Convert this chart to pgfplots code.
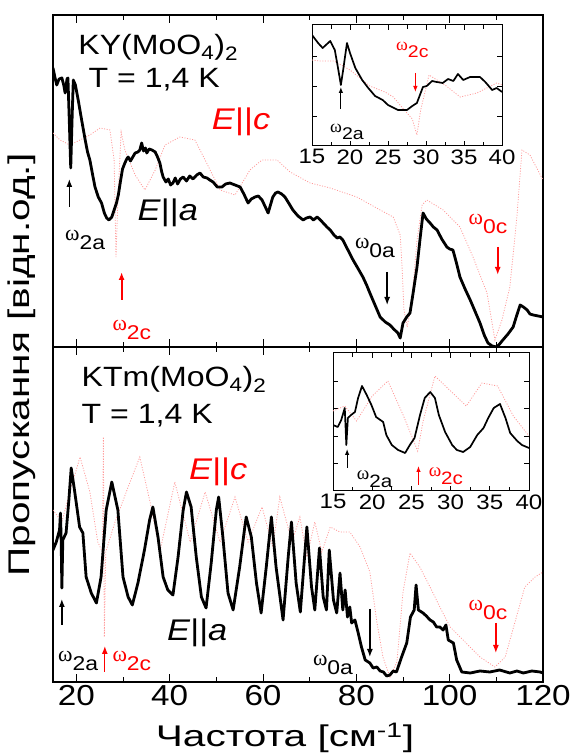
\documentclass[border=0pt]{standalone}
\usepackage{fontspec}
\setmainfont{Liberation Sans}[FakeStretch=1.15]
\newfontfamily\gr{Liberation Serif}
\usepackage{pgfplots}
\pgfplotsset{compat=1.18}
\usetikzlibrary{arrows.meta}

\newcommand\fs[1]{\fontsize{#1}{#1}\selectfont}
% omega with a subscript: size of omega, size of index, index
\newcommand\om[3]{{\fs{#1}{\gr ω}\raisebox{-0.4em}{\fs{#2}#3}}}

\pgfplotsset{
  panel/.style={
    scale only axis, width=490bp,
    xmin=15, xmax=120, ymin=0,
    xtick={20,40,...,120}, minor x tick num=1,
    ytick=\empty,
    tick align=inside, major tick length=8bp, minor tick length=5bp,
    axis line style={line width=1.2bp},
    every tick/.style={black,line width=1bp},
    tick label style={font=\fs{29}},
    /pgf/number format/assume math mode=true,
  },
  inset/.style={
    scale only axis, width=190bp,
    xmin=15, xmax=40, ymin=0,
    xtick={15,20,...,40}, minor x tick num=1,
    yticklabels={},
    tick align=inside, major tick length=5bp, minor tick length=4bp,
    axis line style={line width=1bp},
    every tick/.style={black,line width=0.8bp},
    tick label style={font=\fs{21}},
    axis background/.style={fill=white},
    /pgf/number format/assume math mode=true,
  },
}
\tikzset{
  ea/.style={black,line width=2.8bp,line join=round},
  eai/.style={black,line width=1.7bp,line join=round},
  ec/.style={red!40,line width=0.8bp,dash pattern=on 1bp off 1.6bp},
  up/.style={-{Latex[length=8bp,width=6bp]},line width=1.3bp},
}

\begin{document}
\begin{tikzpicture}
\useasboundingbox (0,0) rectangle (573bp,756bp);

% ---------- upper panel: KY(MoO4)2 ----------
\begin{axis}[panel, at={(53bp,409bp)}, anchor=south west,
  height=332bp, ymax=332, xticklabels={}]
\addplot[ec] coordinates {
(15.0,214)(16.5,207)(18.6,202)(20.8,207)(22.9,212)(25.1,219)(27.2,217)(28.1,187)
(28.5,90)(28.9,147)(29.6,215)(30.4,197)(32.6,172)(34.7,157)(36.9,177)(39.0,202)
(42.2,210)(45.4,207)(47.6,187)(50.8,157)(54.0,152)(57.2,177)(59.8,187)(63.0,187)
(65.8,175)(70.1,164)(74.4,159)(80.1,150)(85.1,137)(87.9,130)(89.4,112)(89.8,80)
(90.2,37)(90.9,20)(91.9,47)(93.0,107)(94.1,142)(95.1,147)(98.6,137)(102.2,120)
(105.0,90)(108.0,54)(109.7,7)(111.2,27)(112.9,60)(114.4,130)(115.5,197)(117.2,192)
(120,167)};
\addplot[ea] coordinates {
(15.0,279)(15.4,270)(15.8,262)(16.3,268)(16.9,269)(17.3,262)(17.6,254)(18.0,268)
(18.2,269)(18.5,225)(18.8,179)(19.1,230)(19.35,267)(19.8,262)(20.4,247)(21.1,228)
(21.9,207)(22.4,195)(22.9,187)(23.5,172)(24.0,160)(24.7,150)(25.4,144)(26.0,134)
(26.5,129)(27.0,127)(27.6,130)(28.1,137)(28.6,144)(29.0,152)(29.4,164)(29.9,178)
(30.4,184)(30.8,188)(31.1,190)(31.6,186)(32.1,190)(32.6,194)(33.2,195)(33.6,197)
(34.0,204)(34.4,196)(34.8,199)(35.1,194)(35.6,198)(36.2,197)(36.9,195)(37.4,190)
(37.9,184)(38.3,175)(38.6,170)(39.2,165)(39.7,168)(40.2,162)(40.7,164)(41.2,169)
(41.7,163)(42.3,168)(42.9,170)(43.6,166)(44.3,171)(45.0,168)(45.8,172)(46.5,174)
(47.2,170)(48.0,169)(48.6,167)(49.3,165)(50.2,160)(51.2,160)(52.0,163)(52.9,164)
(54.0,162)(55.1,160)(55.9,153)(56.8,144)(57.5,148)(58.3,150)(59.0,151)(59.8,147)
(60.5,140)(61.1,134)(61.6,142)(62.1,150)(62.7,154)(63.2,155)(64.0,153)(64.7,150)
(65.5,144)(66.4,137)(67.5,131)(68.6,127)(69.3,129)(70.1,130)(70.8,127)(71.6,130)
(72.3,127)(72.9,124)(73.7,120)(74.4,117)(75.2,112)(75.9,109)(76.5,110)(77.1,107)
(78.2,97)(79.3,87)(80.3,79)(81.4,70)(82.2,62)(82.9,54)(84.0,42)(85.1,30)
(86.2,25)(87.2,22)(88.0,18)(88.9,14)(89.4,9)(90.0,24)(90.8,30)(91.5,34)
(92.2,55)(93.0,80)(93.7,110)(94.3,134)(95.0,128)(95.8,124)(96.5,120)(97.3,117)
(98.3,108)(99.4,100)(100.0,98)(100.7,97)(101.4,85)(102.2,70)(103.3,58)(104.4,47)
(105.5,35)(106.5,24)(107.4,12)(108.2,4)(109.1,1)(110.1,0)(110.7,3)(111.4,7)
(112.5,13)(113.6,20)(114.4,32)(115.1,42)(115.8,40)(116.6,37)(117.2,33)(117.9,32)
(119.0,31)(120,30)};
\node[anchor=base west,font=\fs{28}] at (19.7,292) {KY(MoO\textsubscript{4})\textsubscript{2}};
\node[anchor=base west,font=\fs{28}] at (21.9,259) {T = 1,4 K};
\node[red,font=\fs{30}] at (55.3,225) {\textit{E}||\textit{c}};
\node[font=\fs{30}] at (39.6,134) {\textit{E}||\textit{a}};
\draw[up] (18.5,140) -- (18.5,168);
\node at (21.9,107) {\om{22}{20}{2a}};
\draw[up,red,line width=2bp] (29.7,47) -- (29.7,75);
\node[red] at (31.9,17) {\om{22}{20}{2c}};
\draw[up] (86.6,75) -- (86.6,42);
\node at (84,99) {\om{22}{20}{0a}};
\draw[up,red,line width=1.6bp] (110.3,100) -- (110.3,72);
\node[red] at (108.2,123) {\om{22}{20}{0c}};
\end{axis}

\begin{axis}[inset, at={(312bp,610bp)}, anchor=south west,
  height=121bp, ymax=121, ytick={30,60,90}]
\addplot[ec] coordinates {
(15,86)(16,85)(17.9,85)(20,76)(22.6,60)(24.6,54)(25.7,49)(26.8,39)(28.2,27)
(28.8,11)(29.3,36)(30.4,71)(32.5,61)(34.5,49)(36.7,53)(39.3,63)(40,61)};
\addplot[eai] coordinates {
(15,111)(15.8,103)(16.4,98)(17.4,105)(18.0,96)(18.4,79)(18.8,61)(19.1,76)
(19.6,103)(20.0,93)(20.7,78)(21.6,66)(22.4,58)(23.3,50)(24.3,46)(25.0,41)
(26.3,36)(27.5,36)(28.2,40)(28.8,43)(29.2,51)(29.6,59)(30.1,60)(30.8,65)
(31.4,64)(32.2,63)(32.9,67)(33.6,65)(34.2,72)(34.9,66)(35.8,69)(37.1,69)
(37.8,64)(38.7,56)(39.3,58)(40,54)};
\draw[line width=1bp,-{Latex[length=6bp,width=4.5bp]}] (18.8,37) -- (18.8,59);
\node at (19.6,14) {\om{18}{17}{2a}};
\draw[red,line width=1bp,-{Latex[length=6bp,width=4.5bp]}] (28.6,73) -- (28.6,54);
\node[red] at (28.2,96) {\om{18}{17}{2c}};
\end{axis}

% ---------- lower panel: KTm(MoO4)2 ----------
\begin{axis}[panel, at={(53bp,74bp)}, anchor=south west,
  height=335bp, ymax=335]
\addplot[ec] coordinates {
(15.0,172)(16.9,160)(18.6,190)(20.8,225)(22.9,190)(24.6,140)(25.6,130)(25.8,245)
(26.0,45)(26.3,130)(28.3,160)(31.1,195)(33.6,225)(35.8,180)(37.9,130)(41.1,200)
(44.4,140)(47.6,190)(50.8,140)(54.0,185)(56.8,140)(59.8,175)(62.1,135)(63.6,185)
(66.2,140)(67.9,165)(69.4,125)(71.1,160)(72.6,130)(74.4,155)(76.5,150)(78.6,150)
(80.8,135)(82.9,110)(84.4,60)(85.7,25)(87.2,5)(88.7,20)(90.0,90)(91.5,129)
(93.6,115)(95.8,95)(97.9,75)(100.1,55)(103.3,40)(106.5,25)(109.7,15)(111.9,25)
(114.0,60)(116.1,95)(118.3,105)(120,110)};
\addplot[ea] coordinates {
(15.0,132)(15.7,140)(16.4,152)(16.6,169)(16.75,142)(16.9,94)(17.1,142)(17.8,149)
(18.4,182)(18.9,214)(19.6,192)(20.7,155)(21.4,149)(22.1,105)(23.2,89)(24.3,79)
(25.3,105)(26.4,172)(27.6,200)(28.9,172)(30.0,105)(31.1,85)(32.0,77)(33.2,99)
(34.6,132)(35.7,162)(36.4,175)(37.5,145)(38.6,105)(39.6,92)(40.7,87)(41.8,125)
(42.9,172)(43.6,190)(44.6,175)(45.7,125)(46.8,85)(47.8,74)(48.9,119)(50.0,172)
(50.5,185)(51.4,145)(52.5,89)(53.6,72)(55.0,115)(56.1,155)(56.4,165)(57.5,145)
(58.6,99)(59.6,69)(60.7,115)(61.8,165)(62.8,115)(64.3,62)(65.4,125)(66.1,160)
(67.1,99)(68.0,70)(69.4,155)(70.4,95)(71.1,72)(72.1,134)(72.9,85)(73.6,72)
(74.2,132)(75.1,82)(75.8,69)(76.5,109)(77.1,72)(77.6,92)(78.1,65)(78.6,75)
(79.0,59)(79.7,62)(80.4,49)(81.1,35)(81.9,22)(82.9,19)(83.6,14)(84.4,15)
(85.1,11)(85.8,10)(86.5,6)(87.2,7)(87.9,11)(88.6,10)(89.7,25)(90.8,39)
(91.6,65)(92.4,72)(92.8,97)(93.3,72)(94.3,69)(95.0,66)(95.8,62)(96.5,60)
(97.2,55)(97.9,55)(98.6,52)(99.2,57)(99.7,42)(100.8,39)(101.5,22)(102.6,10)
(104.4,9)(106.5,11)(108.6,10)(110.7,12)(112.9,9)(114.4,11)(115.8,9)(117.6,11)
(119.4,10)(120,9)};
\node[anchor=base west,font=\fs{28}] at (20.4,295) {KTm(MoO\textsubscript{4})\textsubscript{2}};
\node[anchor=base west,font=\fs{28}] at (20.4,258) {T = 1,4 K};
\node[red,font=\fs{30}] at (50.4,210) {\textit{E}||\textit{c}};
\node[font=\fs{30}] at (45.9,49) {\textit{E}||\textit{a}};
\draw[up] (16.9,57) -- (16.9,83);
\node at (20.4,21) {\om{22}{20}{2a}};
\draw[up,red] (26.1,10) -- (26.1,36);
\node[red] at (31.9,21) {\om{22}{20}{2c}};
\draw[up] (82.9,73) -- (82.9,25);
\node at (75,17) {\om{22}{20}{0a}};
\draw[up,red] (109.9,59) -- (109.9,29);
\node[red] at (108.2,72) {\om{22}{20}{0c}};
\end{axis}

\begin{axis}[inset, at={(333bp,265bp)}, anchor=south west,
  width=196bp, height=138bp, ymax=138, ytick={28,55,83,110}]
\addplot[ec] coordinates {
(15,80)(16.5,85)(18,70)(20,95)(22,110)(24,75)(25.8,40)(26.5,70)(28,115)
(30,100)(32,85)(34,108)(36,105)(38,75)(40,55)};
\addplot[eai] coordinates {
(15.0,66)(15.6,64)(16.05,71)(16.5,83)(16.7,46)(16.9,73)(17.3,76)(17.8,79)
(18.2,93)(18.7,105)(19.3,96)(19.9,86)(20.5,74)(21.4,69)(21.8,56)(22.5,46)
(23.3,41)(24.2,38)(24.8,46)(25.4,53)(26.1,76)(26.7,93)(27.4,99)(28.0,93)
(28.5,76)(29.3,59)(30.2,46)(30.8,41)(31.6,39)(32.5,44)(33.4,56)(34.2,63)
(34.8,73)(35.5,83)(36.3,87)(37.0,73)(37.6,58)(38.5,50)(39.1,46)(40,43)};
\draw[line width=1bp,-{Latex[length=6bp,width=4.5bp]}] (16.8,23) -- (16.8,42);
\node at (20.3,12) {\om{19}{18}{2a}};
\draw[red,line width=1bp,-{Latex[length=6bp,width=4.5bp]}] (25.9,6) -- (25.9,25);
\node[red] at (29.4,15) {\om{19}{18}{2c}};
\end{axis}

% axis titles
\node[rotate=90,font=\fs{30}] at (22bp,391bp) {\scalebox{1.18}[1]{Пропускання [відн.од.]}};
\node[font=\fs{30}] at (285bp,18bp) {\scalebox{1.18}[1]{Частота [см\textsuperscript{-1}]}};
\end{tikzpicture}
\end{document}
